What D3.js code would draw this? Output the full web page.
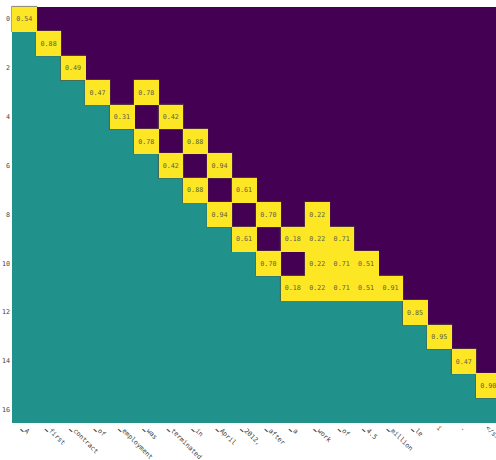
<!DOCTYPE html>
<html>
<head>
<meta charset="utf-8">
<script src="https://cdn.jsdelivr.net/npm/d3@7"></script>
<style>
  html, body { margin: 0; padding: 0; background: #fff; overflow: hidden; }
  svg { display: block; }
  text { font-family: "DejaVu Sans Mono", monospace; }
</style>
</head>
<body>
<script>
// ---- data ----
const xLabels = ["\u2581A","\u2581first","\u2581contract","\u2581of","\u2581employment","\u2581was","\u2581terminated","\u2581in","\u2581April","\u25812012,","\u2581after","\u2581a","\u2581work","\u2581of","\u25814.5","\u2581million","\u2581le","i",".","</s>"];
const rowIds = [0,1,2,3,4,5,6,7,8,9,10,11,12,13,14,15,16];
const yTicks = [0,2,4,6,8,10,12,14,16];
// highlighted (attended) cells: row, column, value
const attnRows = [0,1,2,3,3,4,4,5,5,6,6,7,7,8,8,8,9,9,9,9,10,10,10,10,11,11,11,11,11,12,13,14,15];
const attnCols = [0,1,2,3,5,4,6,5,7,6,8,7,9,8,10,12,9,11,12,13,10,12,13,14,11,12,13,14,15,16,17,18,19];
const attnVals = [0.54,0.88,0.49,0.47,0.78,0.31,0.42,0.78,0.88,0.42,0.94,0.88,0.61,0.94,0.70,0.22,0.61,0.18,0.22,0.71,0.70,0.22,0.71,0.51,0.18,0.22,0.71,0.51,0.91,0.85,0.95,0.47,0.90];

// ---- layout ----
const W = 496, H = 460;
const mLeft = 12, mTop = 6.7, cellW = 24.42, cellH = 24.45;

const svg = d3.select("body").append("svg").attr("width", W).attr("height", H);

const cols = d3.range(xLabels.length);
const x = d3.scaleBand().domain(cols).range([mLeft, mLeft + cellW * cols.length]);
const y = d3.scaleBand().domain(rowIds).range([mTop, mTop + cellH * rowIds.length]);
const color = d3.scaleSequential(d3.interpolateViridis).domain([0, 1]);

// build cell states
const attnMap = new Map();
attnRows.forEach((r, i) => attnMap.set(r + "_" + attnCols[i], attnVals[i]));
const firstCol = {};
attnRows.forEach((r, i) => { firstCol[r] = Math.min(firstCol[r] ?? Infinity, attnCols[i]); });

const cells = [];
rowIds.forEach(r => cols.forEach(c => {
  const key = r + "_" + c;
  let state;
  if (attnMap.has(key)) state = 1;
  else if (c < (firstCol[r] ?? Infinity)) state = 0.5;
  else state = 0;
  cells.push({ r, c, state, v: attnMap.get(key) });
}));

const g = svg.append("g");
g.selectAll("rect.bg").data(cells.filter(d => d.state !== 1)).join("rect")
  .attr("class", "bg")
  .attr("x", d => x(d.c)).attr("y", d => y(d.r))
  .attr("width", x.bandwidth() + 0.8).attr("height", y.bandwidth() + 0.8)
  .attr("shape-rendering", "crispEdges")
  .attr("fill", d => color(d.state));

const hi = cells.filter(d => d.state === 1);
// outline pass (only visible on outer boundaries)
g.selectAll("rect.edge").data(hi).join("rect")
  .attr("class", "edge")
  .attr("x", d => x(d.c)).attr("y", d => y(d.r))
  .attr("width", x.bandwidth()).attr("height", y.bandwidth())
  .attr("fill", "none").attr("stroke", "rgba(90,85,50,0.65)").attr("stroke-width", 1.6);
g.selectAll("rect.hi").data(hi).join("rect")
  .attr("class", "hi")
  .attr("x", d => x(d.c)).attr("y", d => y(d.r))
  .attr("width", x.bandwidth() + 0.4).attr("height", y.bandwidth() + 0.4)
  .attr("shape-rendering", "crispEdges")
  .attr("fill", color(1));

g.selectAll("text.val").data(hi).join("text")
  .attr("class", "val")
  .attr("x", d => x(d.c) + x.bandwidth() / 2)
  .attr("y", d => y(d.r) + y.bandwidth() / 2)
  .attr("dy", "0.35em")
  .attr("text-anchor", "middle")
  .attr("font-size", 6.7)
  .attr("fill", "#5a5a4a")
  .text(d => d.v.toFixed(2));

// y axis
const yAxis = d3.axisLeft(y).tickValues(yTicks).tickSize(0).tickPadding(2);
const ya = svg.append("g").attr("transform", `translate(${mLeft},0)`).call(yAxis);
ya.select(".domain").remove();
ya.selectAll("text").attr("font-family", "DejaVu Sans Mono, monospace").attr("font-size", 6.7).attr("fill", "#444");

// x axis
const mBottom = mTop + cellH * rowIds.length;
const xAxis = d3.axisBottom(x).tickFormat(i => xLabels[i]).tickSize(0).tickPadding(0);
const xa = svg.append("g").attr("transform", `translate(0,${mBottom})`).call(xAxis);
xa.select(".domain").remove();
xa.selectAll("text")
  .attr("font-family", "DejaVu Sans Mono, monospace")
  .attr("font-size", 6.7)
  .attr("fill", "#444")
  .attr("text-anchor", "start")
  .attr("dy", null)
  .attr("y", 0)
  .attr("transform", "translate(-3,6) rotate(45)");
</script>
</body>
</html>
